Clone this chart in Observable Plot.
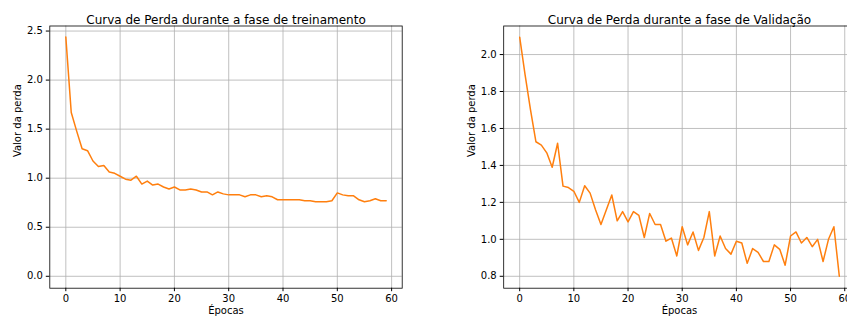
<!DOCTYPE html>
<html>
<head>
<meta charset="utf-8">
<script src="https://cdn.jsdelivr.net/npm/d3@7"></script>
<script src="https://cdn.jsdelivr.net/npm/@observablehq/plot@0.6"></script>
<style>
  html, body { margin: 0; padding: 0; background: white; }
  #wrap { position: relative; width: 847px; height: 321px; overflow: hidden; background: white; }
  #left, #right { position: absolute; top: 0; }
  #left { left: 0; width: 423px; }
  #right { left: 423px; width: 440px; }
  svg { display: block; max-width: none !important; }
</style>
</head>
<body>
<div id="wrap"><div id="left"></div><div id="right"></div></div>
<script>
const epochs = d3.range(0, 60);
const trainLoss = [2.44, 1.67, 1.48, 1.30, 1.28, 1.175, 1.12, 1.13, 1.063, 1.05,
  1.02, 0.99, 0.98, 1.02, 0.94, 0.97, 0.93, 0.94, 0.91, 0.89,
  0.91, 0.88, 0.88, 0.89, 0.88, 0.86, 0.86, 0.83, 0.86, 0.84,
  0.83, 0.83, 0.83, 0.81, 0.83, 0.83, 0.81, 0.82, 0.81, 0.78,
  0.78, 0.78, 0.78, 0.78, 0.77, 0.77, 0.76, 0.76, 0.76, 0.77,
  0.85, 0.83, 0.82, 0.82, 0.78, 0.76, 0.77, 0.79, 0.77, 0.77];
const valLoss = [2.094, 1.89, 1.70, 1.528, 1.51, 1.468, 1.39, 1.52, 1.288, 1.28,
  1.26, 1.20, 1.29, 1.25, 1.16, 1.08, 1.16, 1.24, 1.10, 1.15,
  1.094, 1.15, 1.13, 1.01, 1.14, 1.08, 1.08, 0.99, 1.007, 0.91,
  1.068, 0.97, 1.04, 0.94, 1.01, 1.15, 0.91, 1.018, 0.95, 0.92,
  0.99, 0.98, 0.87, 0.95, 0.93, 0.88, 0.88, 0.97, 0.946, 0.86,
  1.018, 1.04, 0.98, 1.01, 0.96, 1.00, 0.88, 1.00, 1.068, 0.80];
const xTicks = [0, 10, 20, 30, 40, 50, 60];
const yTicksTrain = [0.0, 0.5, 1.0, 1.5, 2.0, 2.5];
const yTicksVal = [0.8, 1.0, 1.2, 1.4, 1.6, 1.8, 2.0];
const titleTrain = "Curva de Perda durante a fase de treinamento";
const titleVal = "Curva de Perda durante a fase de Validação";
const xLabel = "Épocas";
const yLabel = "Valor da perda";

const trainData = epochs.map((e, i) => ({epoch: e, loss: trainLoss[i]}));
const valData = epochs.map((e, i) => ({epoch: e, loss: valLoss[i]}));

function makeChart({data, width, marginLeft, marginRight, yDomain, yTicks, title, ylabelDx}) {
  return Plot.plot({
    width, height: 321,
    marginTop: 25.5, marginBottom: 33.3, marginLeft, marginRight,
    style: {fontFamily: "DejaVu Sans, sans-serif", fontSize: "10px", color: "#000", background: "white", maxWidth: "none"},
    x: {domain: [-2.95, 61.95]},
    y: {domain: yDomain},
    marks: [
      Plot.gridX(xTicks, {stroke: "#b0b0b0", strokeOpacity: 1, strokeWidth: 0.8}),
      Plot.gridY(yTicks, {stroke: "#b0b0b0", strokeOpacity: 1, strokeWidth: 0.8}),
      Plot.line(data, {x: "epoch", y: "loss", stroke: "#ff7f0e", strokeWidth: 1.5}),
      Plot.axisX(xTicks, {tickSize: 3.5, tickPadding: 3.5, fontSize: 10, label: null, tickFormat: d3.format("d"), stroke: "#000", fill: "#000"}),
      Plot.axisY(yTicks, {tickSize: 3.5, tickPadding: 3.5, fontSize: 10, label: null, tickFormat: d3.format(".1f"), stroke: "#000", fill: "#000"}),
      Plot.frame({stroke: "#000", strokeWidth: 0.8}),
      Plot.text([title], {text: d => d, frameAnchor: "top", dy: -10.3, fontSize: 12, fill: "#000"}),
      Plot.text([xLabel], {text: d => d, frameAnchor: "bottom", dy: 26, fontSize: 10, fill: "#000"}),
      Plot.text([yLabel], {text: d => d, frameAnchor: "left", dx: ylabelDx, rotate: -90, fontSize: 10, fill: "#000"})
    ]
  });
}

document.getElementById("left").appendChild(makeChart({
  data: trainData, width: 423, marginLeft: 49.3, marginRight: 21.3,
  yDomain: [-0.1215, 2.5515], yTicks: yTicksTrain, title: titleTrain, ylabelDx: -32.5
}));
document.getElementById("right").appendChild(makeChart({
  data: valData, width: 440, marginLeft: 80.2, marginRight: 8.2,
  yDomain: [0.7355, 2.1545], yTicks: yTicksVal, title: titleVal, ylabelDx: -31.5
}));
</script>
</body>
</html>
